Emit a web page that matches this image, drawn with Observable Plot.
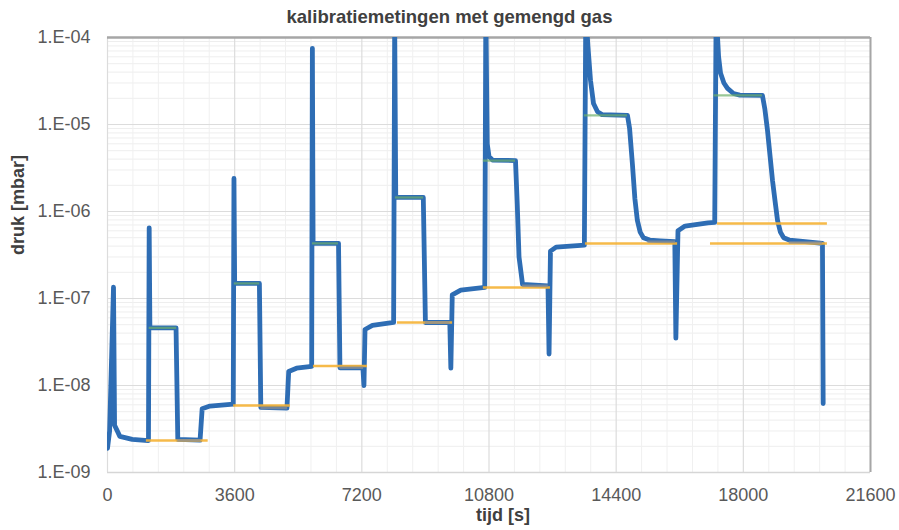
<!DOCTYPE html>
<html>
<head>
<meta charset="utf-8">
<script src="https://cdn.jsdelivr.net/npm/d3@7"></script>
<script src="https://cdn.jsdelivr.net/npm/@observablehq/plot@0.6"></script>
<style>
  html, body { margin: 0; padding: 0; background: #ffffff; }
  #wrap { width: 899px; height: 530px; position: relative; font-family: "Liberation Sans", Arial, sans-serif; }
  #title { position: absolute; top: 6px; left: 0; width: 899px; line-height: 22px; text-align: center; font-weight: bold; font-size: 18.5px; color: #404040; z-index: 2; }
  #chart { position: absolute; top: 0; left: 0; }
</style>
</head>
<body>
<div id="wrap">
  <div id="title">kalibratiemetingen met gemengd gas</div>
  <div id="chart"></div>
</div>
<script>
// ---- data ----
const xTicks = [0, 3600, 7200, 10800, 14400, 18000, 21600];
const yTicks = [1e-9, 1e-8, 1e-7, 1e-6, 1e-5, 1e-4];

// measured pressure (blue)
const blueT = [0, 60, 170, 200, 350, 700, 1150,
  1160, 1180, 1200, 1940, 1990, 2620, 2680, 2900, 3560,
  3580, 3600, 4300, 4340, 5080, 5130, 5350, 5780,
  5800, 5820, 6540, 6580, 7230, 7260, 7290, 7500, 8100,
  8130, 8160, 8940, 9000, 9690, 9720, 9760, 10000, 10680,
  10710, 10750, 10800, 10900, 11550, 11600, 11650, 11750, 12470, 12500, 12540, 12700, 13500,
  13540, 13600, 13674, 13759, 13872, 14000, 14720, 14780, 14860, 14930, 15000, 15080, 15170, 15350, 15650, 16060, 16090, 16150, 16350, 17000, 17190,
  17230, 17300, 17354, 17450, 17552, 17722, 17900, 18540, 18610, 18685, 18760, 18826, 18900, 18968, 19050, 19140, 19300, 19535, 20240, 20260];
const blueP = [1.9e-9, 3e-9, 1.35e-7, 3.5e-9, 2.6e-9, 2.4e-9, 2.33e-9,
  2.33e-9, 6.5e-7, 4.6e-8, 4.6e-8, 2.4e-9, 2.35e-9, 5.4e-9, 5.8e-9, 6.1e-9,
  2.4e-6, 1.49e-7, 1.49e-7, 5.6e-9, 5.5e-9, 1.45e-8, 1.58e-8, 1.66e-8,
  7.5e-5, 4.3e-7, 4.3e-7, 1.6e-8, 1.6e-8, 1.0e-8, 4.4e-8, 4.9e-8, 5.3e-8,
  1.5e-4, 1.45e-6, 1.45e-6, 5.3e-8, 5.3e-8, 1.58e-8, 1.1e-7, 1.25e-7, 1.34e-7,
  2e-4, 6e-6, 4.3e-6, 3.9e-6, 3.85e-6, 1.2e-6, 3.0e-7, 1.45e-7, 1.4e-7, 2.3e-8, 3.5e-7, 3.9e-7, 4.1e-7,
  2e-4, 8e-5, 3.2e-5, 1.74e-5, 1.4e-5, 1.3e-5, 1.27e-5, 9e-6, 3.5e-6, 1.4e-6, 7.9e-7, 5.8e-7, 5.0e-7, 4.7e-7, 4.6e-7, 4.5e-7, 3.5e-8, 6.0e-7, 6.8e-7, 7.4e-7, 7.5e-7,
  2e-4, 6e-5, 3.9e-5, 3.0e-5, 2.6e-5, 2.27e-5, 2.18e-5, 2.16e-5, 1.5e-5, 8.5e-6, 4.2e-6, 2.27e-6, 1.3e-6, 7.9e-7, 5.8e-7, 5.0e-7, 4.7e-7, 4.6e-7, 4.3e-7, 6.2e-9];

// reference baseline (yellow)
const yellowStart = [1100, 3570, 5830, 8210, 10640, 13530, 17270, 17070];
const yellowEnd   = [2850, 5180, 7360, 9770, 12540, 16140, 20380, 20380];
const yellowP     = [2.33e-9, 5.9e-9, 1.68e-8, 5.3e-8, 1.34e-7, 4.3e-7, 7.3e-7, 4.3e-7];

// plateau level (green)
const greenStart = [1180, 3590, 5800, 8150, 10640, 13500, 17170];
const greenEnd   = [1960, 4310, 6540, 8950, 11550, 14720, 18540];
const greenP     = [4.6e-8, 1.49e-7, 4.3e-7, 1.45e-6, 3.85e-6, 1.27e-5, 2.16e-5];

// baseline after plateau (grey)
const greyStart = [1990, 4340, 6580, 9000, 11750, 15300, 19300];
const greyEnd   = [2650, 5100, 7250, 9700, 12480, 16080, 20240];
const greyP     = [2.35e-9, 5.5e-9, 1.6e-8, 5.3e-8, 1.4e-7, 4.5e-7, 4.4e-7];

// ---- build tables ----
const blue = blueT.map((t, i) => ({t, p: blueP[i]}));
const seg = (s, e, p) => s.map((v, i) => ({x1: v, x2: e[i], y: p[i]}));
const yellow = seg(yellowStart, yellowEnd, yellowP);
const green = seg(greenStart, greenEnd, greenP);
const grey = seg(greyStart, greyEnd, greyP);

const yMinor = [];
for (let e = -9; e < -4; e++) for (let k = 2; k <= 9; k++) yMinor.push(k * Math.pow(10, e));
const xMinor = d3.range(0, 21601, 720).filter(v => v % 3600 !== 0);

const fmt = d => "1.E-" + String(Math.round(-Math.log10(d))).padStart(2, "0");

const chart = Plot.plot({
  width: 899,
  height: 530,
  marginTop: 37,
  marginBottom: 58,
  marginLeft: 107,
  marginRight: 29,
  style: {fontFamily: "'Liberation Sans', Arial, sans-serif", fontSize: "18px", background: "transparent"},
  x: {domain: [0, 21600]},
  y: {type: "log", domain: [1e-9, 1e-4]},
  marks: [
    Plot.ruleY(yMinor, {stroke: "#eeeeee", strokeWidth: 1}),
    Plot.ruleX(xMinor, {stroke: "#f0f0f0", strokeWidth: 1}),
    Plot.ruleY(yTicks, {stroke: "#dcdcdc", strokeWidth: 1.2}),
    Plot.ruleX(xTicks, {stroke: "#dcdcdc", strokeWidth: 1.2}),
    Plot.ruleY([1e-9], {stroke: "#d6d6d6", strokeWidth: 1.5}),
    Plot.ruleY([1e-4], {stroke: "#a6a6a6", strokeWidth: 2.5}),
    Plot.ruleX([21600], {stroke: "#a6a6a6", strokeWidth: 2}),
    Plot.axisX({ticks: xTicks, tickSize: 0, tickPadding: 16, tickFormat: d => String(d), color: "#595959", label: null}),
    Plot.axisY({ticks: yTicks, tickSize: 0, tickPadding: 17, tickFormat: fmt, color: "#595959", label: null}),
    Plot.line(blue, {x: "t", y: "p", stroke: "#2E6DB4", strokeWidth: 4.8, clip: true, strokeLinejoin: "round", strokeLinecap: "round"}),
    Plot.ruleY(yellow, {x1: "x1", x2: "x2", y: "y", stroke: "#F5B335", strokeWidth: 2.5, strokeOpacity: 0.9}),
    Plot.ruleY(grey, {x1: "x1", x2: "x2", y: "y", stroke: "#8a8f96", strokeWidth: 2.5, strokeOpacity: 0.75}),
    Plot.ruleY(green, {x1: "x1", x2: "x2", y: "y", stroke: "#6DAF6A", strokeWidth: 2.2, strokeOpacity: 0.7}),
    Plot.text(["tijd [s]"], {frameAnchor: "bottom", dx: 14, dy: 48, text: d => d, fontWeight: "bold", fill: "#404040", fontSize: 18}),
    Plot.text(["druk [mbar]"], {frameAnchor: "left", dx: -89, rotate: -90, text: d => d, fontWeight: "bold", fill: "#404040", fontSize: 18})
  ]
});
document.getElementById("chart").appendChild(chart);
</script>
</body>
</html>
